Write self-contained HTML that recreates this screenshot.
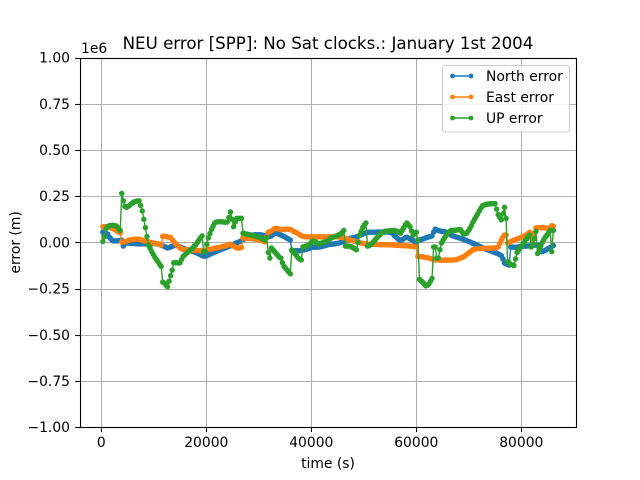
<!DOCTYPE html>
<html>
<head>
<meta charset="utf-8">
<title>NEU error chart</title>
<style>
html,body{margin:0;padding:0;background:#fff;width:640px;height:480px;overflow:hidden}
svg{display:block}
text{font-family:"DejaVu Sans","Liberation Sans",sans-serif;fill:#000}
</style>
</head>
<body>
<svg id="chart" xmlns="http://www.w3.org/2000/svg" width="640" height="480" viewBox="0 0 640 480">
  <rect x="0" y="0" width="640" height="480" fill="#fff"/>
  <g id="grid"></g>
  <g id="series"></g>
  <g id="axes"></g>
  <text x="328" y="49" text-anchor="middle" font-size="16.67">NEU error [SPP]: No Sat clocks.: January 1st 2004</text>
  <text x="328" y="468" text-anchor="middle" font-size="13.89">time (s)</text>
  <text x="20" y="242.4" text-anchor="middle" font-size="13.89" transform="rotate(-90 20 242.4)">error (m)</text>
  <text x="81" y="53" font-size="13.89">1e6</text>
  <g>
    <rect x="442.5" y="65.5" width="127" height="66.5" rx="3" fill="#fff" fill-opacity="0.8" stroke="#ccc" stroke-width="1.1"/>
    <g>
      <line x1="452.5" x2="471" y1="76" y2="76" stroke="#1f77b4" stroke-width="1.4"/>
      <circle cx="452.5" cy="76" r="2.4" fill="#1f77b4"/><circle cx="471" cy="76" r="2.4" fill="#1f77b4"/>
      <text x="486" y="81" font-size="13.89">North error</text>
    </g>
    <g>
      <line x1="452.5" x2="471" y1="97" y2="97" stroke="#ff7f0e" stroke-width="1.4"/>
      <circle cx="452.5" cy="97" r="2.4" fill="#ff7f0e"/><circle cx="471" cy="97" r="2.4" fill="#ff7f0e"/>
      <text x="486" y="102" font-size="13.89">East error</text>
    </g>
    <g>
      <line x1="452.5" x2="471" y1="118" y2="118" stroke="#2ca02c" stroke-width="1.4"/>
      <circle cx="452.5" cy="118" r="2.4" fill="#2ca02c"/><circle cx="471" cy="118" r="2.4" fill="#2ca02c"/>
      <text x="486" y="123" font-size="13.89">UP error</text>
    </g>
  </g>
</svg>
<script>
const xTickValues = [0, 20000, 40000, 60000, 80000];
const xTickLabels = ["0", "20000", "40000", "60000", "80000"];
const yTickValues = [1000, 750, 500, 250, 0, -250, -500, -750, -1000];
const yTickLabels = ["1.00", "0.75", "0.50", "0.25", "0.00", "\u22120.25", "\u22120.50", "\u22120.75", "\u22121.00"];
const times = [
300,600,900,1200,1500,1800,2100,2400,2700,3000,3300,3600,3900,4200,4500,4800,5100,5400,5700,6000,6300,6600,6900,7200,
7500,7800,8100,8400,8700,9000,9300,9600,9900,10200,10500,10800,11100,11400,11700,12000,12300,12600,12900,13200,13500,13800,14100,14400,
14700,15000,15300,15600,15900,16200,16500,16800,17100,17400,17700,18000,18300,18600,18900,19200,19500,19800,20100,20400,20700,21000,21300,21600,
21900,22200,22500,22800,23100,23400,23700,24000,24300,24600,24900,25200,25500,25800,26100,26400,26700,27000,27300,27600,27900,28200,28500,28800,
29100,29400,29700,30000,30300,30600,30900,31200,31500,31800,32100,32400,32700,33000,33300,33600,33900,34200,34500,34800,35100,35400,35700,36000,
36300,36600,36900,37200,37500,37800,38100,38400,38700,39000,39300,39600,39900,40200,40500,40800,41100,41400,41700,42000,42300,42600,42900,43200,
43500,43800,44100,44400,44700,45000,45300,45600,45900,46200,46500,46800,47100,47400,47700,48000,48300,48600,48900,49200,49500,49800,50100,50400,
50700,51000,51300,51600,51900,52200,52500,52800,53100,53400,53700,54000,54300,54600,54900,55200,55500,55800,56100,56400,56700,57000,57300,57600,
57900,58200,58500,58800,59100,59400,59700,60000,60300,60600,60900,61200,61500,61800,62100,62400,62700,63000,63300,63600,63900,64200,64500,64800,
65100,65400,65700,66000,66300,66600,66900,67200,67500,67800,68100,68400,68700,69000,69300,69600,69900,70200,70500,70800,71100,71400,71700,72000,
72300,72600,72900,73200,73500,73800,74100,74400,74700,75000,75300,75600,75900,76200,76500,76800,77100,77400,77700,78000,78300,78600,78900,79200,
79500,79800,80100,80400,80700,81000,81300,81600,81900,82200,82500,82800,83100,83400,83700,84000,84300,84600,84900,85200,85500,85800,86100];
/* errors in kilometres */
const northError = [
55,50,48,45,30,20,10,8,8,8,9,10,12,-20,-3,-3,-3,-4,-5,-5,-6,-7,-7,-8,
-8,-8,-8,-7,-7,-6,-6,-6,-6,-6,-7,-8,-10,-15,-18,-22,-26,-30,-28,-25,-21,-18,-16,-15,
-20,-25,-28,-32,-35,-38,-40,-43,-45,-48,-51,-55,-58,-62,-67,-72,-74,-75,-72,-68,-64,-60,-56,-52,
-48,-45,-42,-38,-35,-32,-28,-25,-22,-18,-14,-10,-6,-2,1,5,10,15,20,25,30,35,38,40,
41,42,42,42,41,40,38,35,32,30,32,35,42,50,49,48,44,40,36,32,27,22,18,13,
-45,-45,-45,-45,-45,-45,-44,-42,-40,-38,-35,-32,-29,-26,-26,-26,-26,-25,-24,-22,-20,-18,-15,-12,
-11,-10,-9,-8,-6,-5,-3,0,3,6,9,12,17,22,24,25,27,30,34,38,42,45,49,52,
54,55,55,55,55,55,56,56,56,56,56,56,56,56,55,55,48,38,30,22,15,8,14,20,
26,28,24,20,15,10,3,-3,13,13,15,18,21,25,27,30,32,35,55,72,68,65,62,60,
59,58,55,52,46,40,36,33,30,28,25,22,19,16,13,10,6,3,-1,-5,-8,-12,-16,-20,
-24,-28,-32,-36,-39,-42,-45,-48,-52,-55,-58,-62,-67,-72,-90,-112,-116,-120,-122,-25,-25,-26,-26,-26,
-24,-22,-21,-20,-20,-20,-19,-18,-16,-15,-15,-15,-15,-15,-15,-50,-46,-42,-37,-32,-27,-22,-17];
const eastError = [
85,85,85,85,83,80,76,72,67,62,57,52,2,2,5,7,10,12,14,15,17,17,18,18,
15,12,9,6,5,3,0,-2,-3,-5,-6,-8,-11,-15,33,33,32,30,28,26,15,5,-5,-15,
-22,-30,-34,-38,-39,-40,-41,-42,-42,-42,-43,-44,-44,-45,-45,-45,-44,-42,-40,-38,-37,-35,-34,-32,
-30,-28,-26,-24,-22,-20,-18,-15,-12,-10,-15,-20,-25,-30,-30,-30,-27,25,25,24,23,22,21,20,
19,18,16,15,12,10,6,3,30,55,58,62,68,75,75,75,72,70,70,70,71,72,71,70,
66,60,56,52,47,42,37,32,31,30,30,30,30,30,30,30,30,30,30,30,30,30,30,30,
30,30,30,30,30,30,29,28,27,25,22,18,15,12,10,8,5,3,1,0,-3,-5,-7,-8,
-9,-10,-10,-10,-10,-11,-11,-12,-12,-12,-12,-13,-13,-13,-13,-14,-14,-15,-15,-16,-16,-17,-17,-18,
-18,-19,-19,-20,-21,-22,-23,-25,-75,-75,-77,-78,-80,-82,-83,-85,-87,-90,-92,-95,-95,-95,-95,-96,
-96,-96,-96,-96,-96,-96,-95,-95,-94,-92,-88,-85,-82,-78,-72,-65,-58,-52,-46,-40,-37,-35,-34,-33,
-33,-33,-32,-32,-32,-32,-31,-31,-30,-30,-28,-25,-5,13,28,40,40,-3,1,5,9,12,15,18,
22,25,28,32,37,42,48,55,35,15,50,78,80,80,80,80,79,78,77,76,75,90,88];
const upError = [
5,30,75,85,90,91,92,92,90,85,75,65,265,225,195,190,195,200,208,215,220,222,224,225,
200,170,125,80,32,-15,-32,-50,-65,-80,-92,-105,-118,-130,-215,-220,-230,-240,-210,-180,-150,-110,-110,-110,
-112,-110,-92,-75,-68,-60,-52,-45,-38,-30,-21,-12,0,13,25,35,-50,-50,-10,25,48,70,88,105,
110,112,112,112,111,110,110,110,135,165,125,85,110,130,130,130,130,50,48,45,44,42,40,38,
35,33,30,28,24,20,16,13,25,-55,-85,-30,-40,-50,-60,-70,-80,-85,-110,-130,-140,-150,-160,-170,
-40,-50,-60,-72,-85,-90,-95,-25,-22,-20,-16,-12,-2,8,5,3,-3,-8,-5,-3,0,3,6,10,
18,25,28,30,34,38,42,45,55,65,-20,-20,-20,-22,-25,-30,-35,-40,0,40,60,80,95,105,
-20,-18,-12,-5,5,15,25,35,42,50,55,60,61,62,63,64,64,65,62,60,55,50,65,80,
95,105,95,85,62,40,48,55,13,-200,-208,-215,-225,-235,-232,-225,-210,-195,-25,-25,-85,-85,-40,-3,
12,25,38,50,58,65,65,65,66,68,69,70,57,45,47,50,62,75,92,110,125,140,155,170,
185,198,202,205,207,208,209,210,210,210,180,150,135,122,155,190,130,-105,-112,-118,-122,-125,-90,-55,
-42,-30,-18,-5,8,20,30,40,-25,-10,20,60,-60,-40,-20,0,15,30,40,52,65,-50,65];

const SVG_NS = "http://www.w3.org/2000/svg";
const plot = { left: 80, right: 576, top: 57.6, bottom: 427.2 };
const xDomain = [-4057, 90419];
const yDomain = [-1000, 1000];
function xScale(v) { return plot.left + (v - xDomain[0]) / (xDomain[1] - xDomain[0]) * (plot.right - plot.left); }
function yScale(v) { return plot.bottom - (v - yDomain[0]) / (yDomain[1] - yDomain[0]) * (plot.bottom - plot.top); }
function snap(p) { return Math.round(p) + 0.5; }
function make(tag, attrs, parent) {
  const el = document.createElementNS(SVG_NS, tag);
  for (const k in attrs) el.setAttribute(k, attrs[k]);
  parent.appendChild(el);
  return el;
}
const gridLayer = document.getElementById("grid");
const axesLayer = document.getElementById("axes");
const seriesLayer = document.getElementById("series");

xTickValues.forEach(function (v, i) {
  const x = snap(xScale(v));
  const g = make("line", { x1: x, x2: x, y1: plot.top, y2: plot.bottom, stroke: "#b0b0b0", "stroke-width": 1.1 }, gridLayer);
  
  
  const t = make("line", { x1: x, x2: x, y1: plot.bottom, y2: plot.bottom + 4.9, stroke: "#000", "stroke-width": 1.1 }, axesLayer);
  
  
  const l = make("text", { x: xScale(v), y: 447, "text-anchor": "middle", "font-size": 13.89 }, axesLayer);
  
  
  l.textContent = xTickLabels[i];
});
yTickValues.forEach(function (v, i) {
  const y = snap(yScale(v));
  const g = make("line", { x1: plot.left, x2: plot.right, y1: y, y2: y, stroke: "#b0b0b0", "stroke-width": 1.1 }, gridLayer);
  
  
  const t = make("line", { x1: plot.left - 4.9, x2: plot.left, y1: y, y2: y, stroke: "#000", "stroke-width": 1.1 }, axesLayer);
  
  
  const l = make("text", { x: 70, y: yScale(v) + 5, "text-anchor": "end", "font-size": 13.89 }, axesLayer);
  
  
  l.textContent = yTickLabels[i];
});
const frame = make("rect", { x: 80.5, y: 58.5, width: 496, height: 369, fill: "none", stroke: "#000", "stroke-width": 1.1 }, axesLayer);



function drawSeries(values, color, name) {
  const group = make("g", {}, seriesLayer);
  
  
  const pts = values.map(function (v, i) { return xScale(times[i]).toFixed(2) + "," + yScale(v).toFixed(2); }).join(" ");
  const line = make("polyline", { points: pts, fill: "none", stroke: color, "stroke-width": 1.4, "stroke-linejoin": "round" }, group);
  
  
  values.forEach(function (v, i) {
    const dot = make("circle", { cx: xScale(times[i]).toFixed(2), cy: yScale(v).toFixed(2), r: 2.75, fill: color }, group);
    
    
  });
}
drawSeries(northError, "#1f77b4", "north-error");
drawSeries(eastError, "#ff7f0e", "east-error");
drawSeries(upError, "#2ca02c", "up-error");
</script>
</body>
</html>
